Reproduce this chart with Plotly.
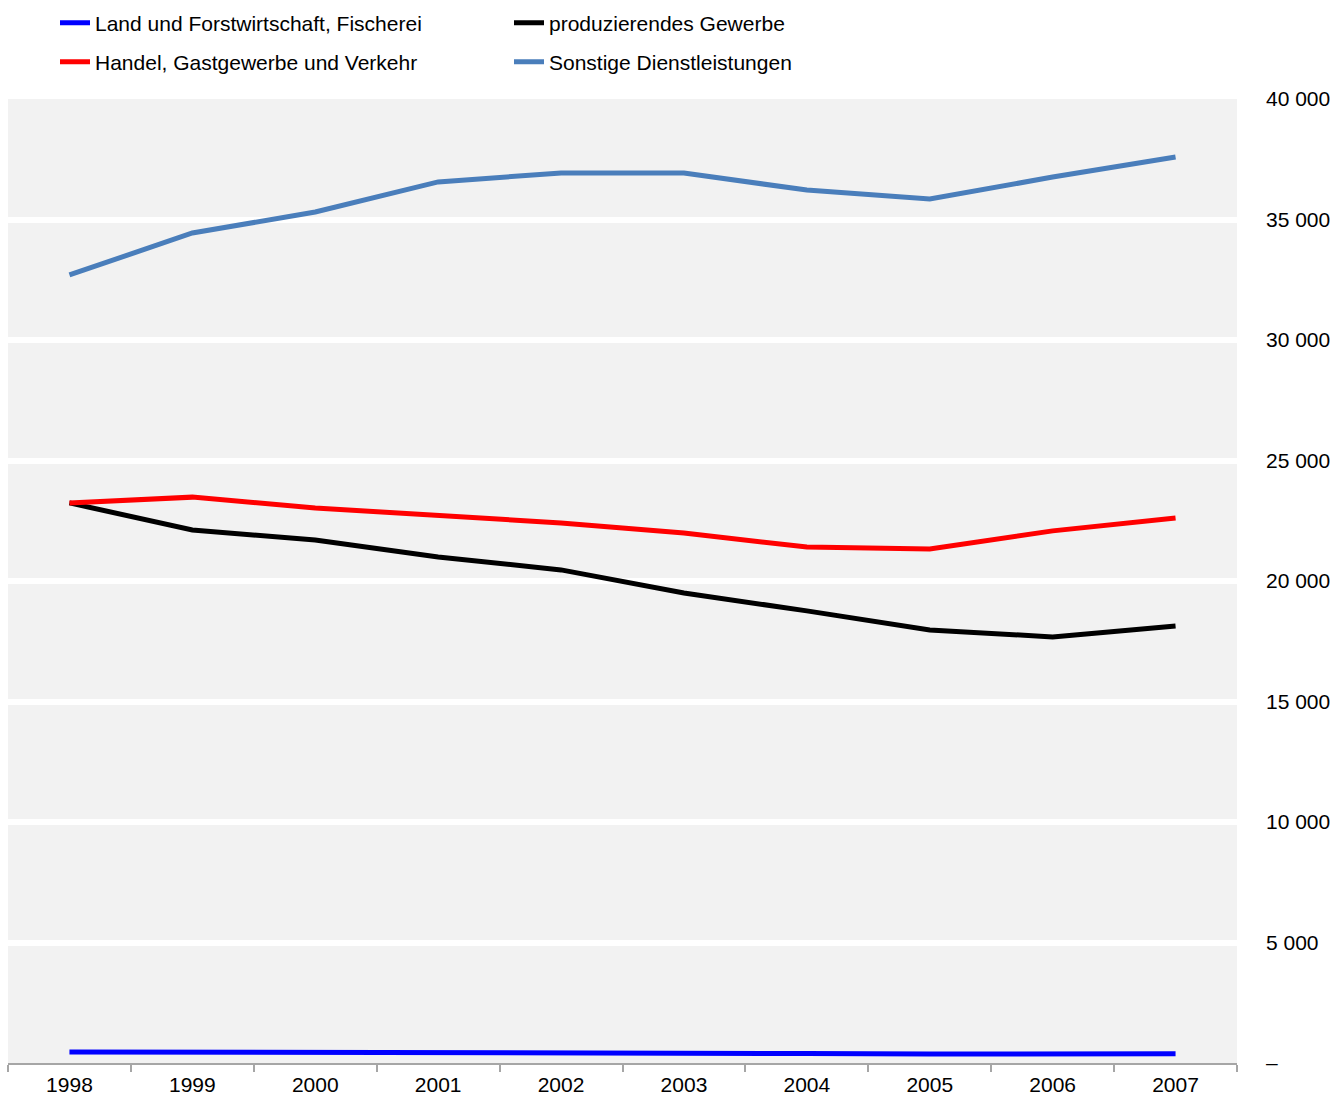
import plotly.graph_objects as go

jahre = ["1998", "1999", "2000", "2001", "2002", "2003", "2004", "2005", "2006", "2007"]

land = [460, 455, 455, 430, 420, 400, 395, 370, 385, 380]
produzierend = [23240, 22120, 21700, 21000, 20460, 19500, 18760, 17970, 17680, 18130]
handel = [23240, 23480, 23030, 22740, 22410, 21990, 21410, 21330, 22080, 22610]
sonstige = [32700, 34440, 35310, 36560, 36930, 36930, 36220, 35850, 36760, 37590]

y_ticks = [0, 5000, 10000, 15000, 20000, 25000, 30000, 35000, 40000]
y_labels = ["–", "5 000", "10 000", "15 000", "20 000", "25 000", "30 000", "35 000", "40 000"]

W, H = 1333, 1097

fig = go.Figure()
fig.add_trace(go.Scatter(x=jahre, y=land, mode="lines", name="Land und Forstwirtschaft, Fischerei",
                         line=dict(color="#0000ff", width=5), legend="legend"))
fig.add_trace(go.Scatter(x=jahre, y=produzierend, mode="lines", name="produzierendes Gewerbe",
                         line=dict(color="#000000", width=5), legend="legend"))
fig.add_trace(go.Scatter(x=jahre, y=handel, mode="lines", name="Handel, Gastgewerbe und Verkehr",
                         line=dict(color="#ff0000", width=5), legend="legend2"))
fig.add_trace(go.Scatter(x=jahre, y=sonstige, mode="lines", name="Sonstige Dienstleistungen",
                         line=dict(color="#4a7ebb", width=5), legend="legend2"))

leg = dict(orientation="h", x=55 / W, xref="container", xanchor="left",
           yref="container", yanchor="middle", entrywidth=409,
           font=dict(size=21), bgcolor="rgba(0,0,0,0)")

fig.update_layout(
    width=W, height=H,
    margin=dict(l=8, r=96, t=99, b=34),
    paper_bgcolor="white",
    plot_bgcolor="#f2f2f2",
    font=dict(family="Liberation Sans, Arial", size=21, color="#000000"),
    legend=dict(leg, y=1 - 23 / H),
    legend2=dict(leg, y=1 - 62 / H),
    xaxis=dict(type="category", range=[-0.5, 9.5], tickson="boundaries", ticks="outside",
               ticklen=7, tickcolor="#a6a6a6", tickwidth=2, showline=True,
               linecolor="#a6a6a6", linewidth=2, showgrid=False, automargin=False,
               ticklabelstandoff=2),
    yaxis=dict(side="right", range=[0, 40000], tickvals=y_ticks, ticktext=y_labels,
               showgrid=True, gridcolor="white", gridwidth=6, zeroline=False,
               ticks="", ticklabelstandoff=28, automargin=False),
)

# page margin off so the full-size figure fits the window exactly
fig.write_html("out.html", config={"displayModeBar": False},
               post_script="document.body.style.margin='0';")
